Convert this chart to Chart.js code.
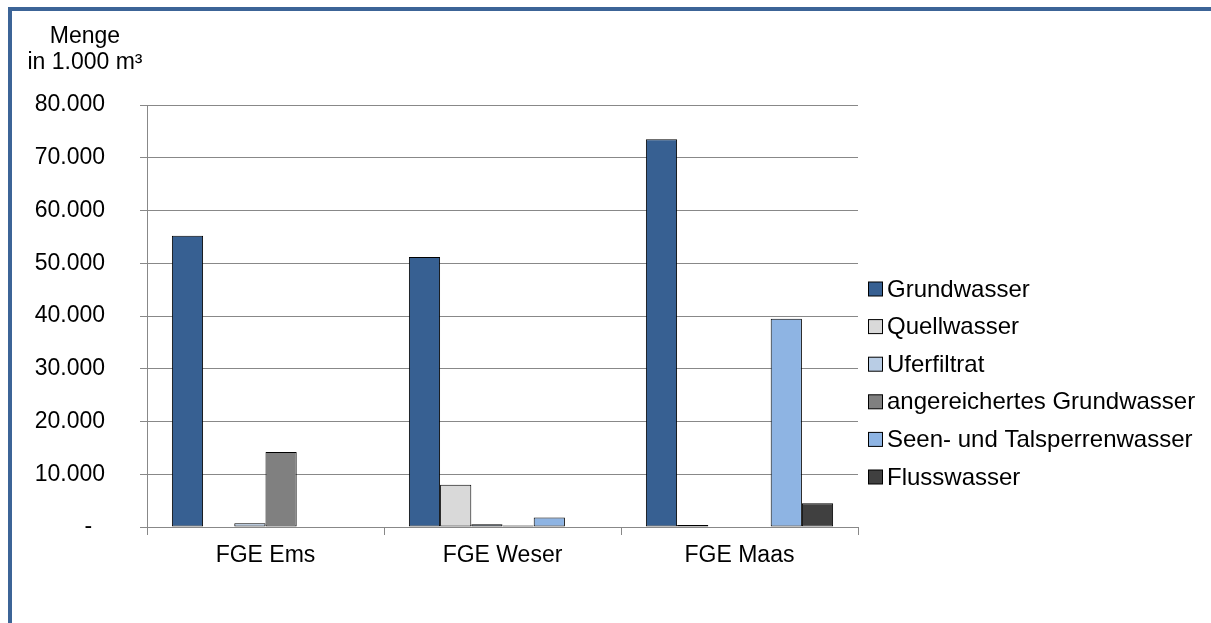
<!DOCTYPE html>
<html>
<head>
<meta charset="utf-8">
<script src="https://cdn.jsdelivr.net/npm/chart.js@4/dist/chart.umd.min.js"></script>
<style>
    html, body { margin: 0; padding: 0; background: #fff; overflow: hidden; }
    #wrap { position: relative; width: 1211px; height: 623px; }
    #frame {
        position: absolute; left: 8px; top: 7px; width: 1300px; height: 700px;
        border-left: 4px solid #3C6497; border-top: 4px solid #3C6497;
    }
    #chart { position: absolute; left: 0; top: 0; }
</style>
</head>
<body>
<div id="wrap">
    <div id="frame"></div>
    <canvas id="chart" width="1211" height="623"></canvas>
</div>
<script>
// Daten (Menge in 1.000 m³)
const categories = ['FGE Ems', 'FGE Weser', 'FGE Maas'];
const seriesNames = ['Grundwasser', 'Quellwasser', 'Uferfiltrat', 'angereichertes Grundwasser', 'Seen- und Talsperrenwasser', 'Flusswasser'];
const grundwasser = [55200, 51200, 73500];
const quellwasser = [100, 8000, 400];
const uferfiltrat = [700, 500, 0];
const angereichert = [14200, 300, 0];
const seenTalsperren = [0, 1800, 39500];
const flusswasser = [0, 0, 4500];
const seriesColors = ['#376092', '#D9D9D9', '#B9CDE5', '#808080', '#8EB4E3', '#404040'];
const yTicks = [0, 10000, 20000, 30000, 40000, 50000, 60000, 70000, 80000];
const yTitle = ['Menge', 'in 1.000 m³'];

const FONT = 'Liberation Sans, Arial, sans-serif';
const SIZE = 23;
const GRID = '#888888';

const seriesValues = [grundwasser, quellwasser, uferfiltrat, angereichert, seenTalsperren, flusswasser];

function fmt(v) {
    if (v === 0) return ' -  ';
    return v.toLocaleString('de-DE');
}

// Achsentitel oben links
const titlePlugin = {
    id: 'titlePlugin',
    afterDraw(chart) {
        const ctx = chart.ctx;
        ctx.save();
        ctx.font = SIZE + 'px ' + FONT;
        ctx.fillStyle = '#000';
        ctx.textAlign = 'center';
        ctx.textBaseline = 'middle';
        ctx.fillText(yTitle[0], 85, 37);
        ctx.fillText(yTitle[1], 85, 63);
        ctx.restore();
    }
};

// Legende rechts, wie in Excel
const legendPlugin = {
    id: 'legendPlugin',
    afterDraw(chart) {
        const ctx = chart.ctx;
        const x = chart.chartArea.right + 10;
        ctx.save();
        ctx.font = '24px ' + FONT;
        ctx.textBaseline = 'middle';
        chart.data.datasets.forEach((ds, i) => {
            const y = 289 + i * 37.6;
            ctx.fillStyle = ds.backgroundColor;
            ctx.fillRect(x + 0.5, y - 7, 14, 14);
            ctx.strokeStyle = '#000';
            ctx.lineWidth = 1;
            ctx.strokeRect(x + 0.5, y - 7, 14, 14);
            ctx.fillStyle = '#000';
            ctx.fillText(ds.label, x + 19, y + 1);
        });
        ctx.restore();
    }
};

document.addEventListener("DOMContentLoaded", function () {
    const ctx = document.getElementById('chart').getContext('2d');
    new Chart(ctx, {
        type: 'bar',
        data: {
            labels: categories,
            datasets: seriesNames.map((name, i) => ({
                label: name,
                data: seriesValues[i],
                backgroundColor: seriesColors[i],
                borderColor: '#000',
                borderWidth: 1,
                borderSkipped: false,
                categoryPercentage: 0.79,
                barPercentage: 1
            }))
        },
        options: {
            responsive: false,
            animation: false,
            layout: { padding: { left: 0, top: 105, right: 353, bottom: 0 } },
            plugins: {
                legend: { display: false },
                tooltip: { enabled: false }
            },
            scales: {
                x: {
                    grid: {
                        offset: true,
                        drawOnChartArea: false,
                        tickLength: 8,
                        color: GRID
                    },
                    border: { color: GRID },
                    ticks: {
                        font: { family: FONT, size: SIZE },
                        color: '#000',
                        padding: 7,
                        maxRotation: 0
                    },
                    afterFit(scale) { scale.height = 96; }
                },
                y: {
                    min: 0,
                    max: 80000,
                    afterBuildTicks(scale) {
                        scale.ticks = yTicks.map(v => ({ value: v }));
                    },
                    grid: { color: GRID, tickLength: 7 },
                    border: { color: GRID },
                    ticks: {
                        font: { family: FONT, size: SIZE },
                        color: '#000',
                        padding: 35,
                        callback: v => fmt(v)
                    },
                    afterFit(scale) { scale.width = 147; }
                }
            }
        },
        plugins: [titlePlugin, legendPlugin]
    });
});
</script>
</body>
</html>
